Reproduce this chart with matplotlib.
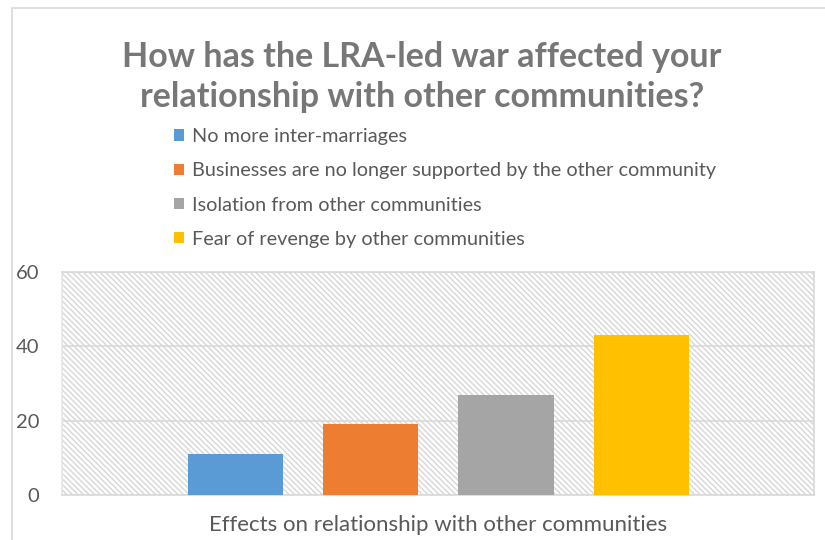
import matplotlib
matplotlib.use("Agg")
import matplotlib.pyplot as plt
from matplotlib.patches import Rectangle, Patch

# Survey responses
categories = [
    "No more inter-marriages",
    "Businesses are no longer supported by the other community",
    "Isolation from other communities",
    "Fear of revenge by other communities",
]
values = [11, 19, 27, 43]
colors = ["#5b9bd5", "#ed7d31", "#a5a5a5", "#ffc000"]
yticks = [0, 20, 40, 60]
title = "How has the LRA-led war affected your\nrelationship with other communities?"
xlabel = "Effects on relationship with other communities"

plt.rcParams["font.family"] = ["Lato", "DejaVu Sans"]
plt.rcParams["hatch.linewidth"] = 1.0
plt.rcParams["hatch.color"] = "#d6d6d6"

W, H = 825, 540
fig = plt.figure(figsize=(W / 100, H / 100), dpi=100)
fig.patch.set_facecolor("white")

# chart frame (only left and top edges fall inside the canvas)
frame = Rectangle((12 / W, -0.1), 1.2, 1 - 8 / H + 0.1, transform=fig.transFigure,
                  facecolor="none", edgecolor="#d9d9d9", linewidth=1.2)
fig.add_artist(frame)

ax = fig.add_axes([62 / W, 1 - 495 / H, (814 - 62) / W, (495 - 272) / H])

# patterned plot area
bg = Rectangle((0, 0), 1, 1, transform=ax.transAxes, facecolor="white",
               edgecolor="#d6d6d6", hatch="\\" * 6, linewidth=0, zorder=0.2)
ax.add_patch(bg)

x = list(range(len(values)))
ax.bar(x, values, width=95 / 135, color=colors, zorder=3)

ax.set_xlim(-1.285, 4.278)
ax.set_ylim(0, 60)
ax.set_yticks(yticks)
ax.set_xticks([])
ax.yaxis.grid(True, color="#d9d9d9", linewidth=1.2, zorder=1)
ax.set_axisbelow(True)
ax.tick_params(axis="y", length=0, pad=16.5, labelsize=14.5, labelcolor="#595959")
for side in ["left", "right", "bottom", "top"]:
    ax.spines[side].set_color("#d9d9d9")
    ax.spines[side].set_linewidth(1.2)
ax.spines["left"].set_color("#e6e6e6")

fig.text(438 / W, 1 - 525 / H, xlabel, ha="center", va="center",
         fontsize=16, color="#595959")

fig.text(422 / W, 1 - 77 / H, title, ha="center", va="center", fontsize=24.5,
         fontweight="bold", color="#777777", linespacing=1.28)

handles = [Patch(facecolor=c, edgecolor="none") for c in colors]
fig.legend(handles, categories, loc="upper left",
           bbox_to_anchor=(174 / W, 1 - 128 / H), frameon=False,
           fontsize=14.3, labelcolor="#595959", handlelength=0.5,
           handleheight=0.5, handletextpad=0.4, labelspacing=0.87,
           borderaxespad=0, borderpad=0)

fig.savefig("out.png", dpi=100, facecolor="white")
